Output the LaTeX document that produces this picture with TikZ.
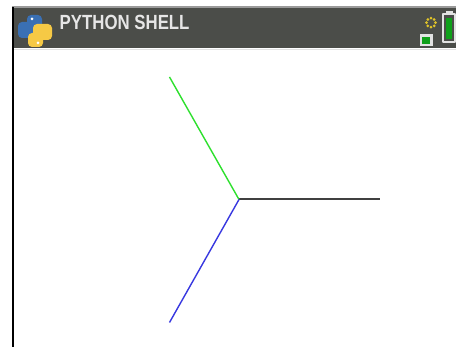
\documentclass[tikz,border=0pt]{standalone}
\usepackage{fontspec}
\newfontfamily\titlefont{Liberation Sans}
\usetikzlibrary{positioning}
\definecolor{headgrey}{HTML}{4B4D49}
\definecolor{framegrey}{HTML}{9A9A9A}
\definecolor{titlegrey}{HTML}{E6E6E6}
\definecolor{pyblue}{HTML}{3A70B4}
\definecolor{pyyellow}{HTML}{F6C945}
\definecolor{batwhite}{HTML}{E2E2E2}
\definecolor{batgreen}{HTML}{0FA01A}
\definecolor{dotyellow}{HTML}{E2C528}
\definecolor{xgrey}{HTML}{404040}
\definecolor{ygreen}{HTML}{2EE02E}
\definecolor{zblue}{HTML}{3838E0}
\begin{document}
\begin{tikzpicture}[x=1pt,y=-1pt,line join=round,
	ray/.style={line width=1.4pt},
	]
	\useasboundingbox (0,0) rectangle (456,347);
	\fill[white] (0,0) rectangle (456,347);
	\fill[headgrey] (13,8) rectangle (456,48);
	\draw[framegrey,line width=1.5pt] (12,7) -- (456,7);
	\draw[batwhite,line width=0.8pt] (13.5,49) -- (456,49);
	\draw[line width=2pt] (12.5,7) -- (12.5,347);
	\begin{scope}[shift={(35,31)}]
		\fill[pyblue,rounded corners=4pt] (-8,-16) rectangle (7,-2) (-17,-9) rectangle (2,7);
		\fill[pyyellow,rounded corners=4pt] (-7,2) rectangle (8,16) (-2,-7) rectangle (17,9);
		\fill[white] (-3,-12) circle (1.5pt) (3,12) circle (1.5pt);
	\end{scope}
	\node[anchor=west,text=titlegrey,inner sep=0pt] (title) at (59.5,22.5)
		{\scalebox{0.82}[1]{\titlefont\bfseries\fontsize{20.5}{20.5}\selectfont PYTHON SHELL}};
	\foreach \a in {0,45,...,315}
		\fill[dotyellow] (431,22.7) ++(\a:4.5) circle (1.5pt);
	\fill[batwhite] (419.5,34.5) rectangle (432.5,46.5);
	\fill[batgreen] (422,37) rectangle (430,44);
	\fill[batwhite] (445.5,11) rectangle (452.5,14);
	\draw[batwhite,line width=1.8pt] (443,14) rectangle (455,42);
	\fill[batgreen] (445.5,18) rectangle (451.5,39.5);
	\coordinate (o) at (239,199.5);
	\coordinate (east) at (380,199.5);
	\coordinate (nw) at (169.5,77);
	\coordinate (sw) at (169.5,322.5);
	\draw[ray,xgrey,line width=2pt] (o) -- (east);
	\draw[ray,ygreen] (o) -- (nw);
	\draw[ray,zblue] (o) -- (sw);
\end{tikzpicture}
\end{document}
